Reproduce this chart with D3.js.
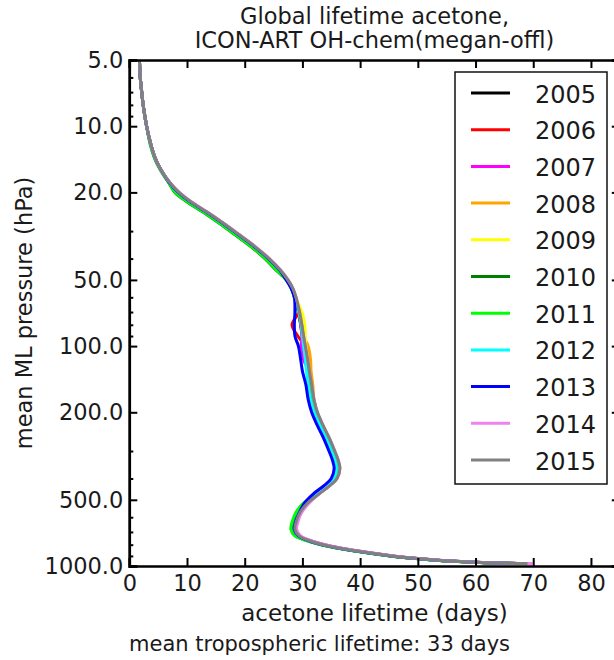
<!DOCTYPE html>
<html><head><meta charset="utf-8">
<script src="https://cdn.jsdelivr.net/npm/d3@7"></script>
<style>body{margin:0;background:#fff}svg{display:block}text{font-family:"DejaVu Sans",sans-serif;fill:#1a1a1a}</style>
</head><body>
<script>
const years = ["2005","2006","2007","2008","2009","2010","2011","2012","2013","2014","2015"];
const colors = ["#000000","#ff0000","#ff00ff","#ffa500","#ffff00","#008000","#00ff00","#00ffff","#0000ff","#ee82ee","#808080"];
const pressure = [4,5,6,7,8,10,12,14,16,18,20,22,25,28,31,35,40,45,50,55,60,70,80,90,100,115,130,150,175,200,230,260,300,330,360,400,430,470,520,570,620,680,730,780,820,860,900,930,950,965,975];
const lt2005 = [1.55,1.75,1.9,2.15,2.4,3.0,3.7,4.5,5.6,6.9, 8.4,10.4,13.7,16.4,18.7,21.4,24.0,25.9,27.3,28.2, 28.7,29.3,29.7,30.0,30.3,30.7,31.0,31.4,31.8,32.4, 33.4,34.4,35.4,36.0,36.3,35.8,34.6,32.7,30.6,29.4, 28.8,28.5,29.2,31.9,35.3,39.9,45.4,50.9,55.4,60.8, 68.8];
const lt2006 = [1.55,1.75,1.9,2.15,2.4,3.0,3.7,4.5,5.6,6.9, 8.5,10.5,13.8,16.5,18.8,21.5,24.1,26.0,27.4,28.3, 28.8,29.3,28.2,29.2,30.4,30.8,31.1,31.5,31.9,32.5, 33.5,34.5,35.5,36.1,36.4,35.9,34.7,32.8,30.7,29.5, 28.9,28.6,29.3,31.9,35.3,39.9,45.4,50.9,55.4,60.9, 68.9];
const lt2007 = [1.55,1.75,1.9,2.15,2.4,3.0,3.7,4.5,5.6,7.0, 8.5,10.5,13.8,16.5,18.8,21.5,24.1,26.0,27.4,28.3, 28.8,29.4,29.7,29.9,29.8,30.2,31.1,31.5,31.9,32.5, 33.5,34.5,35.5,36.1,36.4,35.9,34.7,32.8,30.7,29.6, 29.1,28.8,29.6,32.3,35.7,40.3,45.8,51.3,55.8,61.3, 69.6];
const lt2008 = [1.55,1.75,1.9,2.15,2.4,3.0,3.7,4.5,5.6,6.9, 8.5,10.5,13.8,16.5,18.8,21.5,24.1,26.0,27.4,28.3, 28.8,29.4,29.9,30.2,31.0,31.4,31.5,31.8,32.0,32.5, 33.5,34.5,35.5,36.1,36.4,35.9,34.7,32.8,30.7,29.5, 28.9,28.6,29.3,31.9,35.3,39.9,45.4,50.9,55.4,60.9, 68.9];
const lt2009 = [1.55,1.75,1.9,2.15,2.4,3.0,3.7,4.5,5.6,6.9, 8.5,10.5,13.8,16.5,18.8,21.5,24.1,26.0,27.4,28.3, 28.8,29.9,30.4,30.5,30.6,30.8,31.1,31.5,31.9,32.5, 33.5,34.5,35.5,36.1,36.4,35.9,34.7,32.8,30.7,29.5, 28.9,28.6,29.3,31.9,35.3,39.9,45.4,50.9,55.4,60.9, 68.9];
const lt2010 = [1.55,1.75,1.9,2.15,2.4,3.0,3.6,4.4,5.5,6.8, 7.9,9.9,13.2,15.9,18.2,20.9,23.5,25.4,27.2,28.1, 28.6,29.4,29.8,30.1,30.4,30.8,31.1,31.5,31.9,32.5, 33.5,34.5,35.5,36.1,36.4,35.9,34.7,32.6,30.2,29.0, 28.4,28.1,28.8,31.7,35.1,39.7,45.2,50.7,55.2,60.7, 68.6];
const lt2011 = [1.55,1.75,1.9,2.15,2.4,3.0,3.6,4.4,5.5,6.8, 8.0,10.0,13.3,16.0,18.3,21.0,23.6,25.5,27.2,28.1, 28.6,29.4,29.8,30.1,30.4,30.8,31.1,31.5,31.9,32.5, 33.5,34.5,35.5,36.1,36.4,35.9,34.7,32.5,30.1,28.9, 28.3,28.0,28.7,31.6,35.0,39.6,45.1,50.6,55.1,60.6, 68.5];
const lt2012 = [1.55,1.75,1.9,2.15,2.4,3.0,3.7,4.5,5.6,6.9, 8.5,10.5,13.8,16.5,18.8,21.5,24.1,26.0,27.4,28.3, 28.8,29.4,29.8,30.0,30.2,30.5,30.7,31.0,31.4,32.0, 33.0,34.0,35.0,35.6,35.9,35.4,34.2,32.3,30.6,29.5, 28.9,28.6,29.3,31.9,35.3,39.9,45.4,50.9,55.4,60.9, 68.9];
const lt2013 = [1.55,1.75,1.9,2.15,2.4,3.0,3.7,4.5,5.6,6.9, 8.5,10.5,13.8,16.5,18.8,21.5,24.1,26.0,27.2,28.1, 28.6,28.7,28.6,28.7,29.3,29.7,30.0,30.6,31.0,31.6, 32.6,33.6,34.6,35.2,35.5,35.0,33.8,31.9,30.3,29.5, 28.9,28.6,29.3,31.9,35.3,39.9,45.4,50.9,55.4,60.9, 68.9];
const lt2014 = [1.55,1.75,1.9,2.15,2.4,3.0,3.7,4.5,5.6,7.0, 8.7,10.7,14.0,16.7,19.0,21.7,24.3,26.2,27.5,28.4, 28.9,29.5,29.9,30.2,30.5,30.9,31.2,31.6,32.0,32.6, 33.6,34.6,35.6,36.2,36.5,36.0,34.8,32.9,31.1,29.9, 29.3,29.0,29.7,32.3,35.7,40.3,45.8,51.3,55.8,61.3, 69.9];
const lt2015 = [1.55,1.75,1.9,2.15,2.4,3.0,3.7,4.5,5.6,7.0, 8.6,10.6,13.9,16.6,18.9,21.6,24.2,26.1,27.5,28.4, 28.9,29.5,29.9,30.2,30.5,30.9,31.2,31.6,32.0,32.6, 33.6,34.6,35.6,36.2,36.5,36.0,34.8,32.9,30.8,29.6, 29.0,28.7,29.4,32.0,35.4,40.0,45.5,51.0,55.5,61.0, 69.0];
const lifetimes = [lt2005,lt2006,lt2007,lt2008,lt2009,lt2010,lt2011,lt2012,lt2013,lt2014,lt2015];
const xTicks = [0,10,20,30,40,50,60,70,80];
const yMajor = [5,10,20,50,100,200,500,1000];
const yMinor = [6,7,8,9,30,40,60,70,80,90,300,400,600,700,800,900];
const titleLines = ["Global lifetime acetone,","ICON-ART OH-chem(megan-offl)"];
const xLabel = "acetone lifetime (days)";
const yLabel = "mean ML pressure (hPa)";
const note = "mean tropospheric lifetime: 33 days";

const W = 614, H = 660;
const L = 129.3, R = 619.8, T = 60, B = 566;
const x = d3.scaleLinear().domain([0,85]).range([L,R]);
const y = d3.scaleLog().domain([5,1000]).range([T,B]);

const svg = d3.select("body").append("svg").attr("width",W).attr("height",H);
svg.append("defs").append("clipPath").attr("id","clip").append("rect")
  .attr("x",L).attr("y",T).attr("width",R-L).attr("height",B-T);

const line = d3.line().x(d=>x(d[1])).y(d=>y(d[0])).curve(d3.curveCatmullRom.alpha(0.5));
const gl = svg.append("g").attr("clip-path","url(#clip)");
lifetimes.forEach((arr,i)=>{
  gl.append("path").datum(pressure.map((p,j)=>[p,arr[j]]))
    .attr("d",line).attr("fill","none").attr("stroke",colors[i])
    .attr("stroke-width",3).attr("stroke-linejoin","round");
});

// axes (inward ticks)
const axB = d3.axisBottom(x).tickValues(xTicks).tickSize(-8).tickPadding(9).tickFormat(d3.format("d"));
const axT = d3.axisTop(x).tickValues(xTicks).tickSize(-8).tickFormat("");
const axL = d3.axisLeft(y).tickValues(yMajor).tickSize(-8).tickPadding(6).tickFormat(d3.format(".1f"));
const axR = d3.axisRight(y).tickValues(yMajor).tickSize(-8).tickFormat("");
const axLm = d3.axisLeft(y).tickValues(yMinor).tickSize(-4).tickFormat("");
const axRm = d3.axisRight(y).tickValues(yMinor).tickSize(-4).tickFormat("");
function style(g){
  g.select(".domain").attr("stroke","#000").attr("stroke-width",2.5);
  g.selectAll(".tick line").attr("stroke","#000").attr("stroke-width",2);
  g.selectAll(".tick text").attr("font-size",22.5).attr("fill","#1a1a1a").attr("font-family","DejaVu Sans");
}
svg.append("g").attr("transform",`translate(0,${B})`).call(axB).call(style);
svg.append("g").attr("transform",`translate(0,${T})`).call(axT).call(style);
svg.append("g").attr("transform",`translate(${L},0)`).call(axLm).call(style);
svg.append("g").attr("transform",`translate(${R},0)`).call(axRm).call(style);
svg.append("g").attr("transform",`translate(${L},0)`).call(axL).call(style);
svg.append("g").attr("transform",`translate(${R},0)`).call(axR).call(style);

// titles
titleLines.forEach((t,i)=>{
  svg.append("text").attr("x",(L+R)/2).attr("y",24+i*23.5).attr("text-anchor","middle")
    .attr("font-size",22.5).text(t);
});
svg.append("text").attr("x",(L+R)/2).attr("y",621).attr("text-anchor","middle")
  .attr("font-size",23).text(xLabel);
svg.append("text").attr("transform",`translate(32,${(T+B)/2}) rotate(-90)`).attr("text-anchor","middle")
  .attr("font-size",22.5).text(yLabel);
svg.append("text").attr("x",129).attr("y",651).attr("text-anchor","start")
  .attr("font-size",21).text(note);

// legend
const lg = svg.append("g");
lg.append("rect").attr("x",455).attr("y",72).attr("width",152).attr("height",412)
  .attr("fill","#fff").attr("stroke","#111").attr("stroke-width",1.5);
years.forEach((yr,i)=>{
  const cy = 93 + i*36.7;
  lg.append("line").attr("x1",471).attr("x2",510).attr("y1",cy).attr("y2",cy)
    .attr("stroke",colors[i]).attr("stroke-width",3);
  lg.append("text").attr("x",535).attr("y",cy+9.5).attr("font-size",24).text(yr);
});
</script>
</body></html>
